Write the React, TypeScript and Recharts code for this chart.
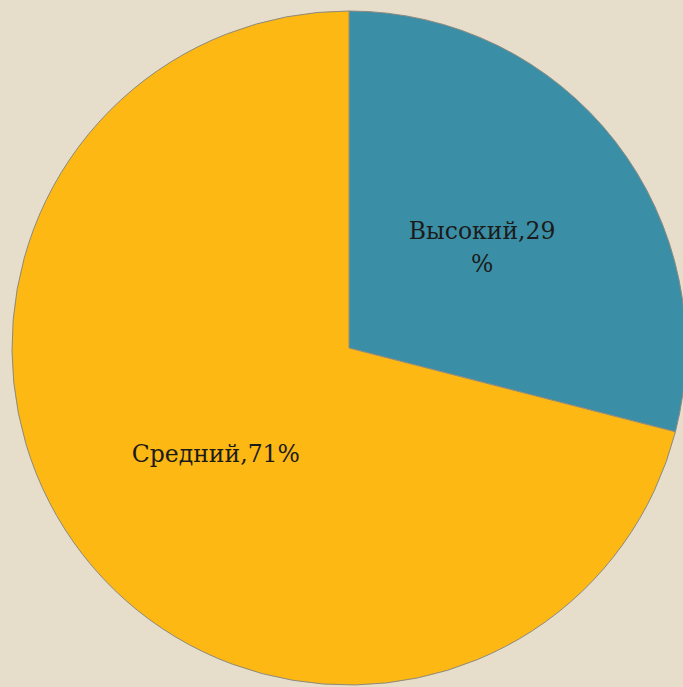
import React from "react";
import { PieChart, Pie, Cell } from "recharts";

const categories = ["Высокий", "Средний"];
const values = [29, 71];
const labelLines = [["Высокий,29", "%"], ["Средний,71%"]];
const colors = ["#3A8FA6", "#FDB813"];

const data = categories.map((name, i) => ({ name, value: values[i] }));

const RADIAN = Math.PI / 180;

const renderLabel = (props: any) => {
  const { cx, cy, midAngle, outerRadius, index } = props;
  const r = outerRadius * 0.5;
  const x = cx + r * Math.cos(-midAngle * RADIAN);
  const y = cy + r * Math.sin(-midAngle * RADIAN) + 3;
  const lines = labelLines[index];
  const lh = 33;
  const startY = y - ((lines.length - 1) * lh) / 2;
  return (
    <text
      x={x}
      y={startY}
      textAnchor="middle"
      dominantBaseline="central"
      fill="#1b1b1b"
      style={{ fontFamily: "'DejaVu Serif', serif", fontSize: 23.5 }}
    >
      {lines.map((l, i) => (
        <tspan key={i} x={x} y={startY + i * lh}>
          {l}
        </tspan>
      ))}
    </text>
  );
};

export default function App() {
  return (
    <div
      style={{
        position: "absolute",
        left: 0,
        top: 0,
        width: 683,
        height: 687,
        background: "#E6DDCB",
        overflow: "hidden",
      }}
    >
      <PieChart width={683} height={687} margin={{ top: 0, right: 0, bottom: 0, left: 0 }}>
        <Pie
          data={data}
          dataKey="value"
          nameKey="name"
          cx={349}
          cy={348}
          outerRadius={337}
          startAngle={90}
          endAngle={-270}
          stroke="#8c8a80"
          strokeWidth={1}
          label={renderLabel}
          labelLine={false}
          isAnimationActive={false}
        >
          {data.map((d, i) => (
            <Cell key={d.name} fill={colors[i]} />
          ))}
        </Pie>
      </PieChart>
    </div>
  );
}
